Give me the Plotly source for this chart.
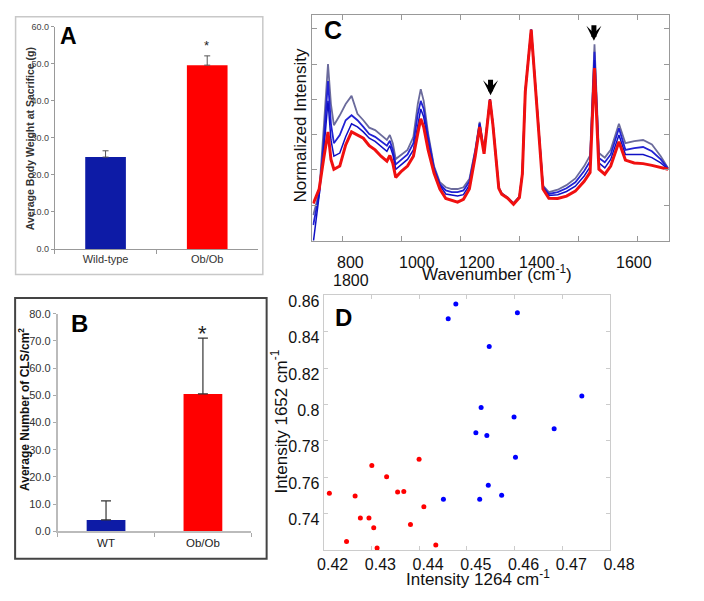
import plotly.graph_objects as go

# ---------------- data ----------------
# Panel A: body weight at sacrifice (g)
A_CATS = ["Wild-type", "Ob/Ob"]
A_MEANS = [24.8, 49.6]
A_ERR = [1.7, 2.5]

# Panel B: crown-like structures per cm^2
B_CATS = ["WT", "Ob/Ob"]
B_MEANS = [4.2, 50.5]
B_ERR = [7.0, 20.5]

# Panel C: Raman spectra (wavenumber, normalized intensity)
C_WAVENUMBER = [700, 720, 735, 750, 760, 770, 790, 810, 830, 850,
                870, 890, 910, 930, 950, 960, 970, 980, 1000, 1020,
                1040, 1055, 1065, 1075, 1090, 1110, 1130, 1150, 1170, 1190,
                1210, 1230, 1250, 1265, 1280, 1300, 1310, 1320, 1330, 1340,
                1360, 1380, 1400, 1410, 1420, 1440, 1460, 1480, 1500, 1530,
                1560, 1590, 1620, 1640, 1655, 1670, 1690, 1710, 1738, 1760,
                1790, 1820, 1850, 1880, 1905]
C_GRAY_TOP = [0.072, 0.137, 0.313, 0.500, 0.387, 0.327, 0.355, 0.387, 0.410, 0.359,
              0.341, 0.320, 0.313, 0.299, 0.285, 0.299, 0.276, 0.231, 0.243, 0.257,
              0.294, 0.387, 0.429, 0.396, 0.304, 0.211, 0.165, 0.151, 0.146, 0.146,
              0.151, 0.174, 0.257, 0.336, 0.253, 0.401, 0.330, 0.240, 0.150, 0.134,
              0.122, 0.106, 0.125, 0.190, 0.424, 0.598, 0.378, 0.156, 0.137, 0.144,
              0.157, 0.176, 0.211, 0.241, 0.556, 0.248, 0.235, 0.257, 0.331, 0.276,
              0.282, 0.285, 0.272, 0.239, 0.205]
C_BLUE_MID = [0.044, 0.132, 0.276, 0.452, 0.331, 0.276, 0.299, 0.341, 0.355, 0.341,
              0.322, 0.302, 0.294, 0.281, 0.269, 0.283, 0.257, 0.216, 0.230, 0.244,
              0.276, 0.359, 0.396, 0.373, 0.294, 0.206, 0.160, 0.142, 0.137, 0.137,
              0.142, 0.167, 0.253, 0.333, 0.251, 0.401, 0.330, 0.240, 0.149, 0.133,
              0.121, 0.105, 0.124, 0.190, 0.424, 0.598, 0.378, 0.153, 0.132, 0.137,
              0.148, 0.165, 0.197, 0.225, 0.535, 0.234, 0.222, 0.244, 0.318, 0.257,
              0.262, 0.265, 0.253, 0.230, 0.204]
C_BLUE_LOW = [-0.006, 0.128, 0.248, 0.396, 0.285, 0.239, 0.248, 0.294, 0.331, 0.322,
              0.308, 0.290, 0.281, 0.267, 0.253, 0.269, 0.244, 0.202, 0.216, 0.230,
              0.257, 0.331, 0.373, 0.350, 0.276, 0.200, 0.156, 0.132, 0.128, 0.126,
              0.130, 0.157, 0.246, 0.330, 0.248, 0.401, 0.330, 0.240, 0.149, 0.132,
              0.120, 0.104, 0.123, 0.190, 0.424, 0.598, 0.378, 0.150, 0.128, 0.130,
              0.139, 0.154, 0.183, 0.209, 0.512, 0.220, 0.206, 0.230, 0.299, 0.244,
              0.244, 0.244, 0.235, 0.220, 0.202]
C_RED = [0.105, 0.146, 0.230, 0.308, 0.230, 0.202, 0.211, 0.271, 0.308, 0.299,
         0.290, 0.269, 0.257, 0.239, 0.225, 0.241, 0.219, 0.179, 0.197, 0.211,
         0.239, 0.304, 0.345, 0.322, 0.257, 0.191, 0.146, 0.119, 0.114, 0.109,
         0.117, 0.146, 0.239, 0.322, 0.246, 0.399, 0.328, 0.238, 0.148, 0.131,
         0.120, 0.103, 0.122, 0.188, 0.422, 0.598, 0.376, 0.146, 0.120, 0.119,
         0.126, 0.140, 0.168, 0.193, 0.489, 0.202, 0.188, 0.211, 0.280, 0.228,
         0.220, 0.218, 0.213, 0.208, 0.202]
C_TICK_LABELS = ["800", "1000", "1200", "1400", "1600", "1800"]
C_ARROW_PEAKS = [1302, 1653]

# Panel D: intensity at 1264 vs 1652 cm-1
D_BLUE_X = [0.4477, 0.4461, 0.4606, 0.4547, 0.4741, 0.4530, 0.4599, 0.4683, 0.4519, 0.4542,
            0.4602, 0.4545, 0.4573, 0.4451, 0.4527]
D_BLUE_Y = [0.8551, 0.8470, 0.8504, 0.8318, 0.8047, 0.7984, 0.7931, 0.7866, 0.7845, 0.7830,
            0.7710, 0.7556, 0.7501, 0.7479, 0.7479]
D_RED_X = [0.4212, 0.4301, 0.4332, 0.4400, 0.4266, 0.4355, 0.4368, 0.4410, 0.4277, 0.4295,
           0.4305, 0.4382, 0.4248, 0.4312, 0.4435]
D_RED_Y = [0.7513, 0.7665, 0.7603, 0.7699, 0.7498, 0.7520, 0.7522, 0.7439, 0.7377, 0.7377,
           0.7323, 0.7341, 0.7248, 0.7212, 0.7228]

# ---------------- layout helpers ----------------
W, H = 704, 601
BLUE_BAR = "#0d1ba6"
RED = "#ff0000"
SANS = "Liberation Sans, Arial, sans-serif"
NARROW = "Liberation Sans Narrow, Liberation Sans, Arial, sans-serif"


def fx(px):
    return px / W


def fy(py):
    return 1 - py / H


def label(text, px, py, size, color="#111", angle=0, family=SANS):
    return dict(text=text, x=fx(px), y=fy(py), xref="paper", yref="paper",
                xanchor="center", yanchor="middle", showarrow=False, textangle=angle,
                font=dict(family=family, size=size, color=color))


fig = go.Figure()

fig.add_trace(go.Bar(
    x=A_CATS, y=A_MEANS, width=0.4, marker=dict(color=[BLUE_BAR, RED], line=dict(width=0)),
    error_y=dict(type="data", array=A_ERR, arrayminus=[0, 0], symmetric=False,
                 color="#555555", thickness=1, width=3),
    xaxis="x", yaxis="y", showlegend=False))

fig.add_trace(go.Bar(
    x=B_CATS, y=B_MEANS, width=0.4, marker=dict(color=[BLUE_BAR, RED], line=dict(width=0)),
    error_y=dict(type="data", array=B_ERR, arrayminus=[0, 0], symmetric=False,
                 color="#333333", thickness=1.2, width=5),
    xaxis="x2", yaxis="y2", showlegend=False))

for ys, col, w in [(C_GRAY_TOP, "#6b6b9c", 1.8), (C_BLUE_MID, "#2222d4", 1.8),
                   (C_BLUE_LOW, "#1010c4", 1.5), (C_RED, "#f01010", 3.0)]:
    fig.add_trace(go.Scatter(x=C_WAVENUMBER, y=ys, mode="lines",
                             line=dict(color=col, width=w),
                             xaxis="x3", yaxis="y3", showlegend=False))

fig.add_trace(go.Scatter(x=D_BLUE_X, y=D_BLUE_Y, mode="markers",
                         marker=dict(color="#0000ff", size=5),
                         xaxis="x4", yaxis="y4", showlegend=False, cliponaxis=False))
fig.add_trace(go.Scatter(x=D_RED_X, y=D_RED_Y, mode="markers",
                         marker=dict(color="#ff0000", size=5),
                         xaxis="x4", yaxis="y4", showlegend=False, cliponaxis=False))

ann = []
for txt, px, py, sz in [("A", 64, 31, 23), ("B", 75.5, 323.5, 24), ("C", 341, 24, 25), ("D", 352, 318, 24)]:
    ann.append(label("<b>%s</b>" % txt, px, py, sz, color="#000"))

ann.append(label("*", 209, 40, 13, color="#222"))
ann.append(label("*", 205, 334, 22, color="#222"))

ann.append(label("<b>Average Body Weight at Sacrifice (g)</b>", 24, 135, 10.5, "#333", -90))
ann.append(label("<b>Average Number of CLS/cm<sup>2</sup></b>", 18, 412, 12, "#111", -90))
ann.append(label("Normalized Intensity", 308, 122, 17, "#111", -90))
ann.append(label("Wavenumber (cm<sup>-1</sup>)", 513, 272, 17))
ann.append(label("Intensity 1264 cm<sup>-1</sup>", 493, 584, 17))
ann.append(label("Intensity 1652 cm<sup>-1</sup>", 285, 424, 17, "#111", -90))

c_label_px = [360, 430, 492, 555, 657, 360]
c_label_py = [261.5, 261.5, 261.5, 261.5, 261.5, 280]
for t, px, py in zip(C_TICK_LABELS, c_label_px, c_label_py):
    ann.append(label(t, px, py, 16))

for wn, tip_y in zip(C_ARROW_PEAKS, [0.412, 0.566]):
    ann.append(dict(x=wn, y=tip_y, xref="x3", yref="y3", ax=0, ay=-17, text="",
                    showarrow=True, arrowhead=3, arrowsize=0.5, arrowwidth=5,
                    arrowcolor="#000"))

shapes = [
    dict(type="rect", xref="paper", yref="paper", x0=fx(9), x1=fx(268), y0=fy(274), y1=fy(11),
         line=dict(color="#c8c8c8", width=1.5)),
    dict(type="rect", xref="paper", yref="paper", x0=fx(8.5), x1=fx(272), y0=fy(564), y1=fy(298),
         line=dict(color="#444444", width=2)),
]

fig.update_layout(
    width=W, height=H, margin=dict(l=0, r=0, t=0, b=0),
    paper_bgcolor="white", plot_bgcolor="white",
    font=dict(family=SANS, color="#222"),
    annotations=ann, shapes=shapes,
    xaxis=dict(domain=[fx(50), fx(263)], anchor="y", type="category", range=[-0.5, 1.5],
               tickson="boundaries", ticks="outside", ticklen=4, tickcolor="#999",
               showline=True, linecolor="#999", linewidth=1, showgrid=False,
               tickfont=dict(family=NARROW, size=11, color="#333")),
    yaxis=dict(domain=[fy(248), fy(21)], anchor="x", range=[0, 60], dtick=10, tickformat=".1f",
               ticks="outside", ticklen=3, tickcolor="#999", showline=True, linecolor="#999",
               showgrid=False, zeroline=False,
               tickfont=dict(family=NARROW, size=9, color="#444")),
    xaxis2=dict(domain=[fx(53), fx(256)], anchor="y2", type="category", range=[-0.5, 1.5],
                tickson="boundaries", ticks="outside", ticklen=4, tickcolor="#aaa",
                showline=True, linecolor="#bbb", linewidth=1.5, showgrid=False,
                tickfont=dict(family=SANS, size=11.5, color="#222")),
    yaxis2=dict(domain=[fy(536), fy(314)], anchor="x2", range=[0, 80], dtick=10, tickformat=".1f",
                ticks="outside", ticklen=3, tickcolor="#aaa", showline=True, linecolor="#bbb",
                linewidth=1.5, showgrid=False, zeroline=False,
                tickfont=dict(family=SANS, size=11, color="#333")),
    xaxis3=dict(domain=[fx(320), fx(693.3)], anchor="y3", range=[697.2, 1907.3],
                tick0=800, dtick=200, ticks="inside", ticklen=5, tickcolor="#999",
                showline=True, mirror="ticks", linecolor="#999", showgrid=False,
                zeroline=False, showticklabels=False),
    yaxis3=dict(domain=[fy(239.3), fy(9.3)], anchor="x3", range=[0, 0.639],
                tick0=0, dtick=0.1, ticks="inside", ticklen=5, tickcolor="#999",
                showline=True, mirror="ticks", linecolor="#999", showgrid=False,
                zeroline=False, showticklabels=False),
    xaxis4=dict(domain=[fx(331.7), fx(631.7)], anchor="y4", range=[0.42, 0.48],
                dtick=0.01, ticks="inside", ticklen=4, tickcolor="#ccc",
                showline=True, mirror="ticks", linecolor="#ccc", showgrid=False,
                zeroline=False, ticklabelshift=9,
                tickfont=dict(family=SANS, size=16, color="#111")),
    yaxis4=dict(domain=[fy(554.7), fy(294.7)], anchor="x4", range=[0.7203, 0.8602],
                dtick=0.02, ticks="inside", ticklen=4, tickcolor="#ccc",
                showline=True, mirror="ticks", linecolor="#ccc", showgrid=False,
                zeroline=False, ticklabelshift=6,
                tickfont=dict(family=SANS, size=16, color="#111")),
)

# pin the graph to the page's top-left corner so it fills the 704x601 window exactly
PIN_JS = ("document.documentElement.style.margin='0';document.body.style.margin='0';"
          "document.body.style.overflow='hidden';"
          "var gd=document.getElementById('{plot_id}');gd.style.position='fixed';"
          "gd.style.left='0px';gd.style.top='0px';")

fig.write_html("out.html", post_script=PIN_JS, config={"displayModeBar": False})
